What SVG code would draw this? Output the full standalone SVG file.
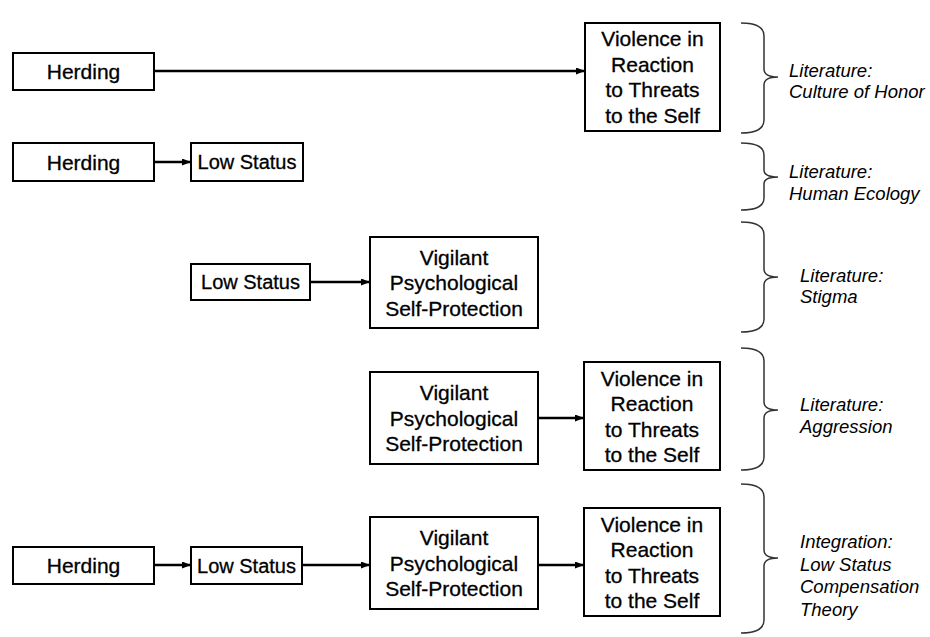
<svg xmlns="http://www.w3.org/2000/svg" width="930" height="637" viewBox="0 0 930 637">
  <style>
    .box { fill: #fff; stroke: #000; stroke-width: 2; }
    .lbl { font-family: "Liberation Sans", Arial, sans-serif; font-size: 21px; fill: #000; stroke: #000; stroke-width: 0.3; text-anchor: middle; }
    .small { font-size: 20px; }
    .note { font-family: "Liberation Sans", Arial, sans-serif; font-size: 18.5px; font-style: italic; fill: #000; }
    .edge { stroke: #000; stroke-width: 2.5; fill: none; marker-end: url(#head); }
    .brace { stroke: #333; stroke-width: 1.5; fill: none; }
  </style>
  <defs>
    <marker id="head" markerUnits="userSpaceOnUse" markerWidth="10" markerHeight="8" refX="9" refY="3.5" orient="auto">
      <path d="M0,0 L9,3.5 L0,7 Z" fill="#000"/>
    </marker>
  </defs>
  <rect width="930" height="637" fill="#fff"/>

  <!-- connectors -->
  <g id="connectors">
    <line class="edge" x1="154" y1="71" x2="585" y2="71"/>
    <line class="edge" x1="154" y1="162" x2="191" y2="162"/>
    <line class="edge" x1="310" y1="282" x2="370" y2="282"/>
    <line class="edge" x1="538" y1="418" x2="584" y2="418"/>
    <line class="edge" x1="154" y1="565" x2="191" y2="565"/>
    <line class="edge" x1="302" y1="565" x2="370" y2="565"/>
    <line class="edge" x1="538" y1="565" x2="584" y2="565"/>
  </g>

  <!-- row 1: culture of honor -->
  <g id="r1-herding">
    <rect class="box" x="13" y="53" width="141" height="37"/>
    <text class="lbl" x="83.5" y="79">Herding</text>
  </g>
  <g id="r1-violence">
    <rect class="box" x="585" y="23" width="135" height="108"/>
    <text class="lbl" x="652.5" y="46">Violence in</text>
    <text class="lbl" x="652.5" y="71.5">Reaction</text>
    <text class="lbl" x="652.5" y="97">to Threats</text>
    <text class="lbl" x="652.5" y="122.5">to the Self</text>
  </g>

  <!-- row 2: human ecology -->
  <g id="r2-herding">
    <rect class="box" x="13" y="143" width="141" height="38"/>
    <text class="lbl" x="83.5" y="169.5">Herding</text>
  </g>
  <g id="r2-lowstatus">
    <rect class="box" x="191" y="143" width="112" height="38"/>
    <text class="lbl small" x="247" y="169">Low Status</text>
  </g>

  <!-- row 3: stigma -->
  <g id="r3-lowstatus">
    <rect class="box" x="191" y="264" width="119" height="36"/>
    <text class="lbl small" x="250.5" y="289">Low Status</text>
  </g>
  <g id="r3-vigilant">
    <rect class="box" x="370" y="237" width="168" height="91"/>
    <text class="lbl" x="454" y="264.5">Vigilant</text>
    <text class="lbl" x="454" y="290">Psychological</text>
    <text class="lbl" x="454" y="315.5">Self-Protection</text>
  </g>

  <!-- row 4: aggression -->
  <g id="r4-vigilant">
    <rect class="box" x="370" y="372" width="168" height="92"/>
    <text class="lbl" x="454" y="400">Vigilant</text>
    <text class="lbl" x="454" y="425.5">Psychological</text>
    <text class="lbl" x="454" y="451">Self-Protection</text>
  </g>
  <g id="r4-violence">
    <rect class="box" x="584" y="362" width="136" height="108"/>
    <text class="lbl" x="652" y="385.5">Violence in</text>
    <text class="lbl" x="652" y="411">Reaction</text>
    <text class="lbl" x="652" y="436.5">to Threats</text>
    <text class="lbl" x="652" y="462">to the Self</text>
  </g>

  <!-- row 5: integration -->
  <g id="r5-herding">
    <rect class="box" x="13" y="547" width="141" height="37"/>
    <text class="lbl" x="83.5" y="573">Herding</text>
  </g>
  <g id="r5-lowstatus">
    <rect class="box" x="191" y="547" width="111" height="37"/>
    <text class="lbl small" x="246.5" y="572.5">Low Status</text>
  </g>
  <g id="r5-vigilant">
    <rect class="box" x="370" y="517" width="168" height="92"/>
    <text class="lbl" x="454" y="545">Vigilant</text>
    <text class="lbl" x="454" y="570.5">Psychological</text>
    <text class="lbl" x="454" y="596">Self-Protection</text>
  </g>
  <g id="r5-violence">
    <rect class="box" x="584" y="508" width="136" height="108"/>
    <text class="lbl" x="652" y="531.5">Violence in</text>
    <text class="lbl" x="652" y="557">Reaction</text>
    <text class="lbl" x="652" y="582.5">to Threats</text>
    <text class="lbl" x="652" y="608">to the Self</text>
  </g>

  <!-- literature braces and their labels -->
  <g id="brace-honor">
    <path class="brace" d="M741,23 Q764,23 764,36 L764,69 Q764,77 778,77 Q764,77 764,85 L764,120 Q764,133 741,133"/>
    <text class="note" x="789" y="77">Literature:</text>
    <text class="note" x="789" y="98">Culture of Honor</text>
  </g>
  <g id="brace-ecology">
    <path class="brace" d="M741,143 Q764,143 764,155 L764,170 Q764,177 778,177 Q764,177 764,184 L764,198 Q764,210 741,210"/>
    <text class="note" x="789" y="178">Literature:</text>
    <text class="note" x="789" y="200">Human Ecology</text>
  </g>
  <g id="brace-stigma">
    <path class="brace" d="M741,222 Q764,222 764,235 L764,269 Q764,277 778,277 Q764,277 764,285 L764,319 Q764,332 741,332"/>
    <text class="note" x="800" y="282">Literature:</text>
    <text class="note" x="800" y="303">Stigma</text>
  </g>
  <g id="brace-aggression">
    <path class="brace" d="M741,348 Q764,348 764,361 L764,402 Q764,410 778,410 Q764,410 764,418 L764,457 Q764,470 741,470"/>
    <text class="note" x="800" y="411">Literature:</text>
    <text class="note" x="800" y="433">Aggression</text>
  </g>
  <g id="brace-integration">
    <path class="brace" d="M741,484 Q764,484 764,497 L764,550 Q764,558 778,558 Q764,558 764,566 L764,620 Q764,633 741,633"/>
    <text class="note" x="800" y="548">Integration:</text>
    <text class="note" x="800" y="571">Low Status</text>
    <text class="note" x="800" y="593">Compensation</text>
    <text class="note" x="800" y="616">Theory</text>
  </g>
</svg>
